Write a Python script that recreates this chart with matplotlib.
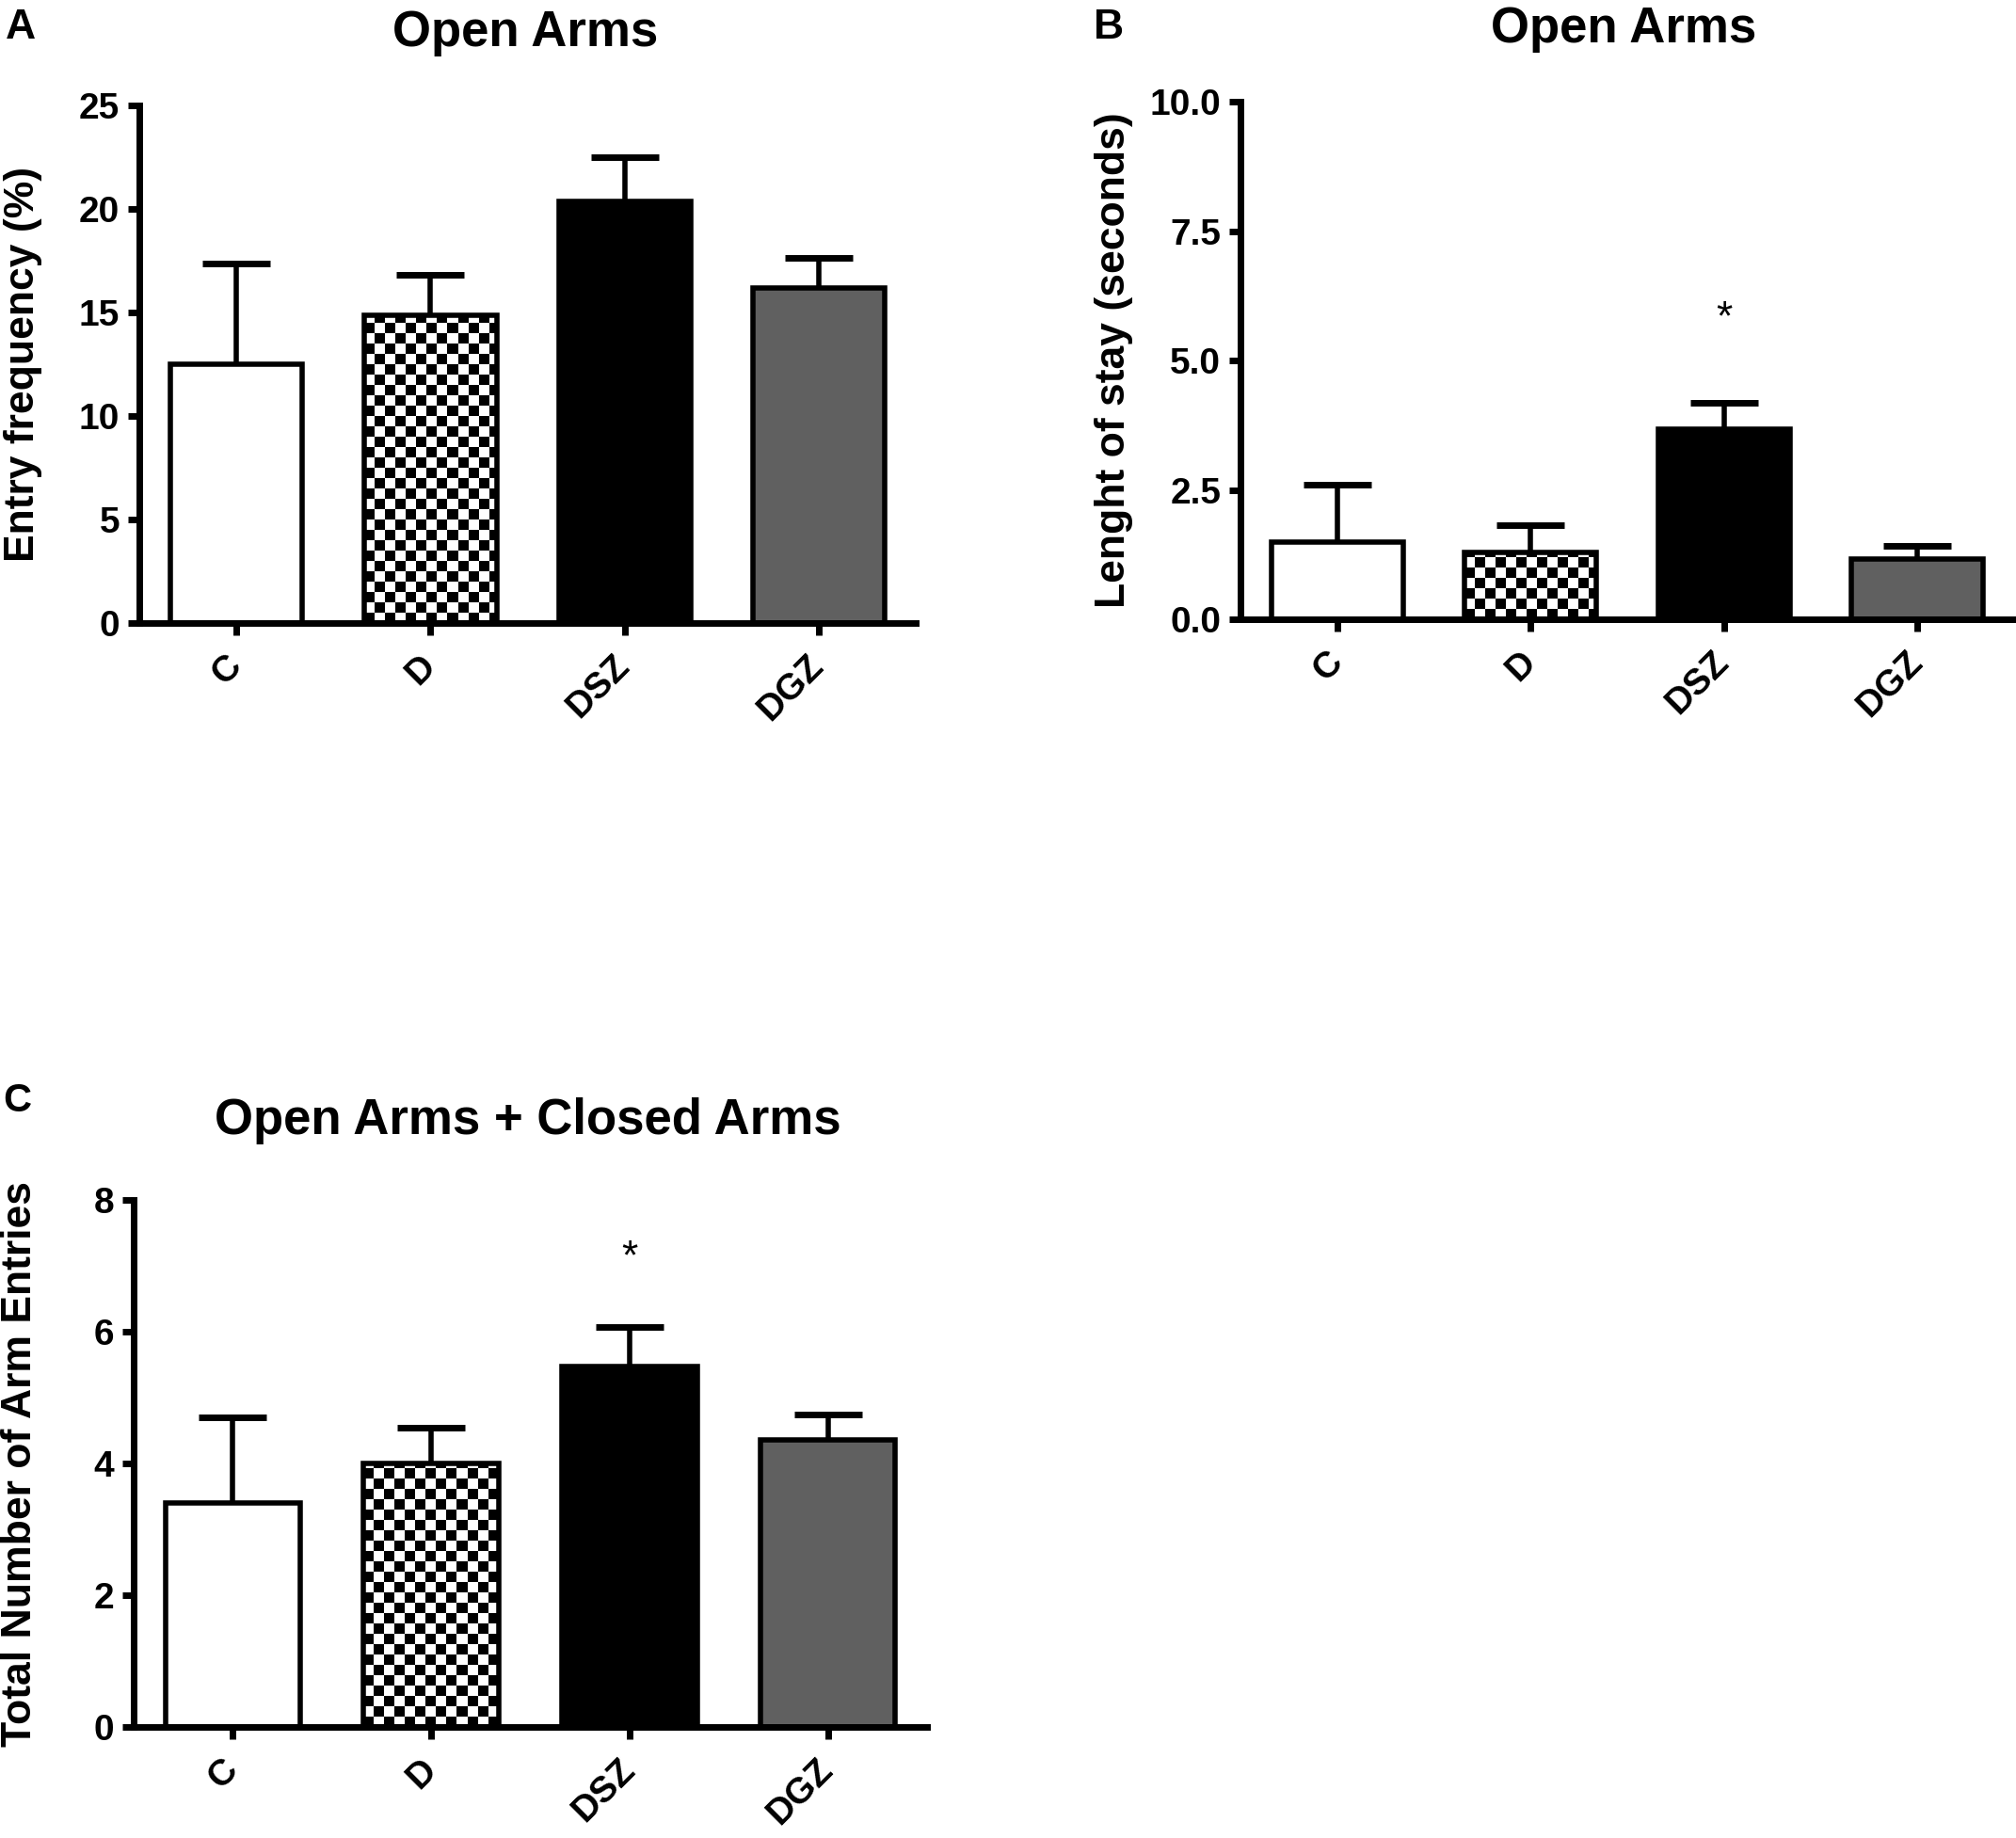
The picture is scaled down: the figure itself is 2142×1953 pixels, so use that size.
import numpy as np
import matplotlib.pyplot as plt
from matplotlib.transforms import ScaledTranslation

plt.rcParams['font.family'] = ['Liberation Sans', 'DejaVu Sans']
plt.rcParams['font.weight'] = 'bold'

groups = ['C', 'D', 'DSZ', 'DGZ']
fills = ['white', 'checker', 'black', '#606060']

# panel A: open arms entry frequency (%)
entry_mean = [12.5, 14.85, 20.35, 16.2]
entry_sem = [4.88, 1.95, 2.15, 1.42]

# panel B: open arms length of stay (s)
stay_mean = [1.5, 1.3, 3.67, 1.17]
stay_sem = [1.1, 0.51, 0.52, 0.24]

# panel C: total arm entries
total_mean = [3.4, 4.0, 5.47, 4.36]
total_sem = [1.3, 0.54, 0.6, 0.39]

W, H = 2142, 1953
fig = plt.figure(figsize=(W / 100, H / 100), dpi=100)


def px_axes(left, right, top, bottom):
    return fig.add_axes([left / W, 1 - bottom / H, (right - left) / W, (bottom - top) / H])


def panel(ax, means, sems, ymax, yticks, fmt, ylabel, label_x, star_y=None):
    x = np.arange(len(groups))
    faces = ['white' if f == 'checker' else f for f in fills]

    eb = ax.errorbar(x, means, yerr=[np.zeros(len(x)), sems], fmt='none',
                     ecolor='black', elinewidth=4, capsize=26, capthick=5, zorder=1)
    eb[1][0].set_visible(False)  # no lower cap

    bars = ax.bar(x, means, width=0.68, color=faces, edgecolor='none', zorder=2)

    # checker fill for the D bar
    pos = ax.get_position()
    ppx = pos.width * W / 4.0
    ppy = pos.height * H / ymax
    sq = 11
    for b, f in zip(bars, fills):
        if f != 'checker':
            continue
        x0, w, h = b.get_x(), b.get_width(), b.get_height()
        nx = int(np.ceil(w * ppx / sq))
        ny = int(np.ceil(h * ppy / sq))
        board = np.add.outer(np.arange(ny), np.arange(nx)) % 2
        im = ax.imshow(board, cmap='gray', origin='lower', interpolation='nearest',
                       extent=(x0, x0 + nx * sq / ppx, 0, ny * sq / ppy),
                       aspect='auto', zorder=2.5)
        im.set_clip_path(b)

    ax.bar(x, means, width=0.68, fill=False, edgecolor='black', linewidth=4, zorder=3)

    ax.set_xlim(-0.5, 3.5)
    ax.set_ylim(0, ymax)
    ax.set_yticks(yticks)
    ax.set_yticklabels([fmt % t for t in yticks])
    ax.set_xticks(x)
    ax.set_xticklabels(groups, rotation=45, ha='right', va='center',
                       rotation_mode='anchor')
    shift = ScaledTranslation(-0.09, 0, fig.dpi_scale_trans)
    for lab in ax.get_xticklabels():
        lab.set_transform(lab.get_transform() + shift)
    for s in ['top', 'right']:
        ax.spines[s].set_visible(False)
    for s in ['left', 'bottom']:
        ax.spines[s].set_linewidth(5)
    ax.tick_params(width=5, length=9, labelsize=28, pad=6)
    ax.tick_params(axis='x', pad=20)
    ax.set_ylabel(ylabel, fontsize=32, fontweight='bold')
    ax.yaxis.set_label_coords(label_x, 0.5)
    if star_y is not None:
        ax.text(2, star_y, '*', ha='center', va='baseline', fontsize=32,
                fontweight='normal')


axA = px_axes(148, 973, 112, 662)
panel(axA, entry_mean, entry_sem, 25, [0, 5, 10, 15, 20, 25], '%d',
      'Entry frequency (%)', -0.125)

axB = px_axes(1318, 2140, 108, 658)
panel(axB, stay_mean, stay_sem, 10, [0, 2.5, 5, 7.5, 10], '%.1f',
      'Lenght of stay (seconds)', -0.139, star_y=5.6)

axC = px_axes(142, 985, 1275, 1835)
panel(axC, total_mean, total_sem, 8, [0, 2, 4, 6, 8], '%d',
      'Total Number of Arm Entries', -0.119, star_y=6.95)

fig.text(558 / W, 1 - 49 / H, 'Open Arms', ha='center', va='baseline', fontsize=38)
fig.text(1725 / W, 1 - 45 / H, 'Open Arms', ha='center', va='baseline', fontsize=38)
fig.text(561 / W, 1 - 1205 / H, 'Open Arms + Closed Arms', ha='center', va='baseline',
         fontsize=38)

fig.text(6 / W, 1 - 41 / H, 'A', ha='left', va='baseline', fontsize=32)
fig.text(1162 / W, 1 - 41 / H, 'B', ha='left', va='baseline', fontsize=32)
fig.text(3 / W, 1 - 1181 / H, 'C', ha='left', va='baseline', fontsize=30)

fig.savefig('out.png', dpi=100, facecolor='white')
